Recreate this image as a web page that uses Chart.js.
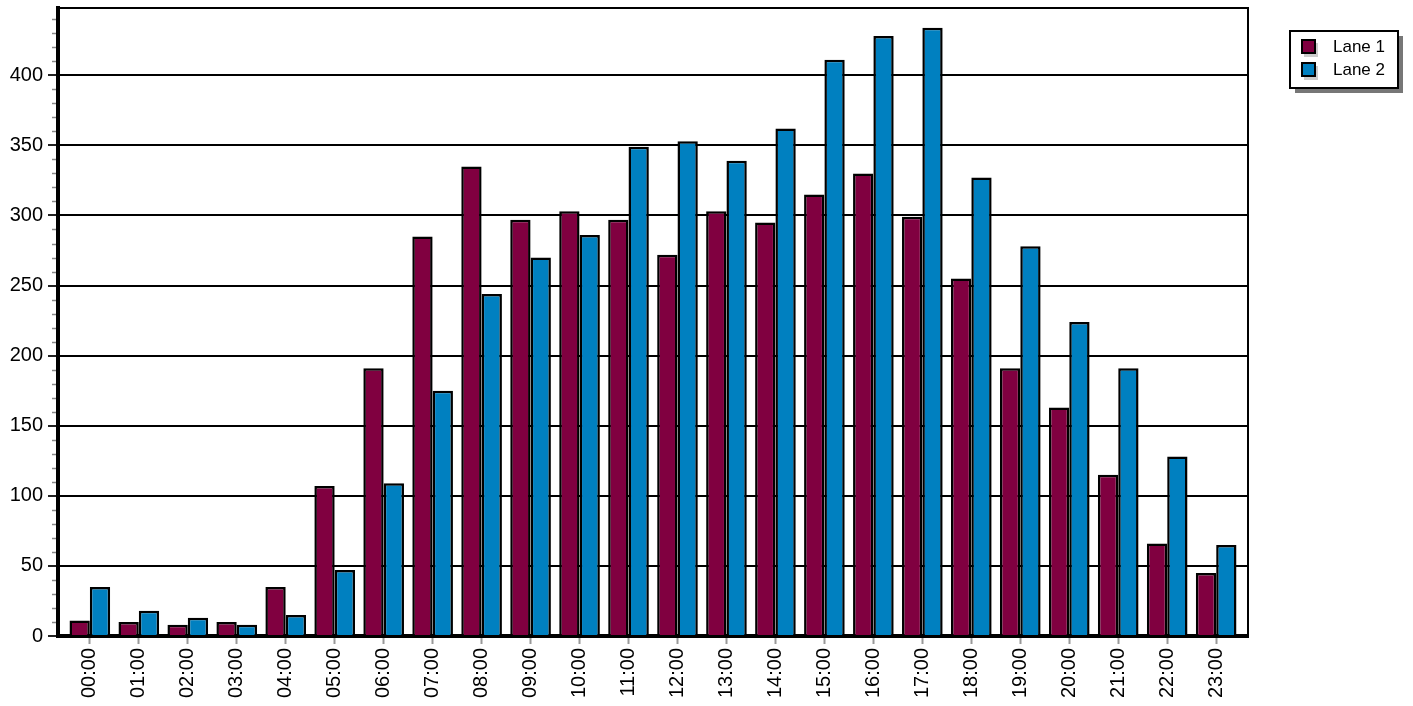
<!DOCTYPE html>
<html>
<head>
<meta charset="utf-8">
<title>Hourly traffic by lane</title>
<script src="https://cdn.jsdelivr.net/npm/chart.js@4.4.1/dist/chart.umd.min.js"></script>
<style>
    html, body { margin: 0; padding: 0; background: #fff; }
    #wrap { width: 1413px; height: 706px; }
</style>
</head>
<body>
<div id="wrap"><canvas id="chart" width="1413" height="706"></canvas></div>
<script>
// hourly counts per lane
const hours = ['00:00', '01:00', '02:00', '03:00', '04:00', '05:00', '06:00', '07:00',
    '08:00', '09:00', '10:00', '11:00', '12:00', '13:00', '14:00', '15:00',
    '16:00', '17:00', '18:00', '19:00', '20:00', '21:00', '22:00', '23:00'];
const lane1 = [11, 10, 8, 10, 35, 107, 191, 285, 335, 297, 303, 297,
    272, 303, 295, 315, 330, 299, 255, 191, 163, 115, 66, 45];
const lane2 = [35, 18, 13, 8, 15, 47, 109, 175, 244, 270, 286, 349,
    353, 339, 362, 411, 428, 434, 327, 278, 224, 191, 128, 65];
const seriesNames = ['Lane 1', 'Lane 2'];
const yTicks = [0, 50, 100, 150, 200, 250, 300, 350, 400];
const yMax = 448;
const yMinorStep = 10;

const FONT = 'Arial, "Liberation Sans", sans-serif';

// hours sit on a numeric axis so the plot keeps a little room at both ends
const toPoints = arr => arr.map((v, i) => ({ x: i, y: v }));

// small ticks between the labelled ones on the value axis
const minorTicks = {
    id: 'minorTicks',
    afterDraw(chart) {
        const y = chart.scales.y;
        const ctx = chart.ctx;
        const left = chart.chartArea.left;
        ctx.save();
        ctx.strokeStyle = '#888';
        ctx.lineWidth = 1.5;
        for (let v = yMinorStep; v < yMax; v += yMinorStep) {
            if (yTicks.includes(v)) continue;
            const py = Math.round(y.getPixelForValue(v)) + 0.5;
            ctx.beginPath();
            ctx.moveTo(left - 6, py);
            ctx.lineTo(left - 2, py);
            ctx.stroke();
        }
        ctx.restore();
    }
};

// top and right edges of the plot box
const frame = {
    id: 'frame',
    beforeDatasetsDraw(chart) {
        const { left, right, top, bottom } = chart.chartArea;
        const ctx = chart.ctx;
        ctx.save();
        ctx.strokeStyle = '#000';
        ctx.lineWidth = 2;
        ctx.beginPath();
        ctx.moveTo(left, top);
        ctx.lineTo(right, top);
        ctx.lineTo(right, bottom);
        ctx.stroke();
        ctx.restore();
    }
};

// boxed legend with a drop shadow
const boxLegend = {
    id: 'boxLegend',
    afterDraw(chart) {
        const ctx = chart.ctx;
        const x = 1290, y = 31, w = 108, h = 57;
        ctx.save();
        ctx.fillStyle = '#777';
        ctx.fillRect(x + 5, y + 5, w, h);
        ctx.fillStyle = '#fff';
        ctx.fillRect(x, y, w, h);
        ctx.strokeStyle = '#000';
        ctx.lineWidth = 2;
        ctx.strokeRect(x, y, w, h);

        ctx.font = '17px ' + FONT;
        ctx.textBaseline = 'middle';
        chart.data.datasets.forEach((ds, i) => {
            const my = y + 9 + i * 23;
            ctx.fillStyle = '#ccc';
            ctx.fillRect(x + 14, my + 3, 14, 14);
            ctx.fillStyle = ds.backgroundColor;
            ctx.fillRect(x + 12, my, 13, 13);
            ctx.strokeStyle = '#000';
            ctx.lineWidth = 2;
            ctx.strokeRect(x + 12, my, 13, 13);
            ctx.fillStyle = '#000';
            ctx.fillText(ds.label, x + 43, my + 7);
        });
        ctx.restore();
    }
};

new Chart(document.getElementById('chart'), {
    type: 'bar',
    data: {
        datasets: [{
            label: seriesNames[0],
            data: toPoints(lane1),
            backgroundColor: '#800040',
            borderColor: '#000',
            borderWidth: 2.5,
            categoryPercentage: 0.83,
            barPercentage: 1.0
        }, {
            label: seriesNames[1],
            data: toPoints(lane2),
            backgroundColor: '#0080c0',
            borderColor: '#000',
            borderWidth: 2.5,
            categoryPercentage: 0.83,
            barPercentage: 1.0
        }]
    },
    options: {
        responsive: false,
        animation: false,
        events: [],
        layout: {
            padding: { left: 0, top: 8, right: 165, bottom: 0 }
        },
        plugins: {
            legend: { display: false },
            tooltip: { enabled: false },
            title: { display: false }
        },
        scales: {
            x: {
                type: 'linear',
                min: -0.65,
                max: hours.length - 1 + 0.65,
                offset: false,
                z: 1,
                grid: {
                    offset: false,
                    drawOnChartArea: false,
                    drawTicks: true,
                    tickLength: 8,
                    tickColor: '#999',
                    tickWidth: 2
                },
                border: { display: true, color: '#000', width: 4 },
                ticks: {
                    color: '#000',
                    font: { family: FONT, size: 20 },
                    minRotation: 90,
                    maxRotation: 90,
                    autoSkip: false,
                    padding: 4,
                    callback: v => hours[v]
                },
                afterBuildTicks(scale) {
                    scale.ticks = hours.map((h, i) => ({ value: i }));
                },
                afterFit(scale) {
                    scale.height = 70;
                    scale.paddingLeft = 0;
                    scale.paddingRight = 0;
                }
            },
            y: {
                min: 0,
                max: yMax,
                grid: {
                    color: '#000',
                    lineWidth: 2,
                    drawTicks: true,
                    tickLength: 10,
                    tickColor: '#222',
                    tickWidth: 2
                },
                border: { display: true, color: '#000', width: 4 },
                ticks: {
                    color: '#000',
                    font: { family: FONT, size: 20 },
                    padding: 5
                },
                afterBuildTicks(scale) {
                    scale.ticks = yTicks.map(v => ({ value: v }));
                },
                afterFit(scale) {
                    scale.width = 58;
                    scale.paddingTop = 0;
                    scale.paddingBottom = 0;
                }
            }
        }
    },
    plugins: [frame, minorTicks, boxLegend]
});
</script>
</body>
</html>
